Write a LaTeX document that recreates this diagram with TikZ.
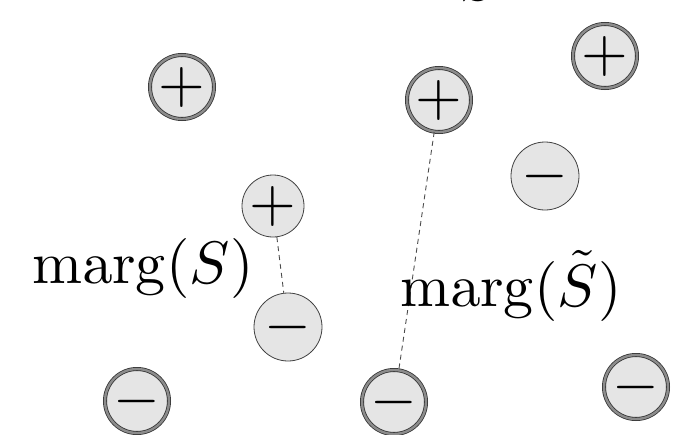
\documentclass[tikz,border=0pt]{standalone}
\DeclareFontShape{OT1}{cmr}{m}{n}{<->cmr10}{}
\DeclareFontShape{OML}{cmm}{m}{it}{<->cmmi10}{}
\DeclareFontShape{OMS}{cmsy}{m}{n}{<->cmsy10}{}
\DeclareFontShape{OMX}{cmex}{m}{n}{<->cmex10}{}
\begin{document}
\begin{tikzpicture}[x=1pt,y=-1pt,
  sgn/.style={circle,inner sep=0pt,fill=black!10,font=\fontsize{60}{72}\selectfont},
  single/.style={sgn,draw=black!75,line width=0.8pt,minimum size=68pt},
  dbl/.style={sgn,draw=black!80,line width=0.8pt,double=black!45,double distance=2.4pt,minimum size=64pt},
  link/.style={draw=black!70,line width=0.9pt,dash pattern=on 5pt off 4pt},
  lbl/.style={font=\fontsize{60}{72}\selectfont,inner sep=0pt,anchor=base west}]
\useasboundingbox (0,0) rectangle (675,434);
\node[dbl] (p1) at (182,87) {$+$};
\node[dbl] (p2) at (439,100) {$+$};
\node[dbl] (p3) at (605,56) {$+$};
\node[single,minimum size=62pt] (p4) at (273,206) {$+$};
\node[single] (m1) at (288,327) {$-$};
\node[single] (m2) at (545,176) {$-$};
\node[dbl] (m3) at (137,401) {$-$};
\node[dbl] (m4) at (394,402) {$-$};
\node[dbl] (m5) at (636,387) {$-$};
\draw[link] (p4) -- (m1);
\draw[link] (p2) -- (m4);
\node[lbl] (l1) at (32,283) {$\mathrm{marg}(S)$};
\node[lbl] (l2) at (400,306) {$\mathrm{marg}(\tilde{S})$};
\node[lbl] (l3) at (460,0.5) {$S$};
\end{tikzpicture}
\end{document}
